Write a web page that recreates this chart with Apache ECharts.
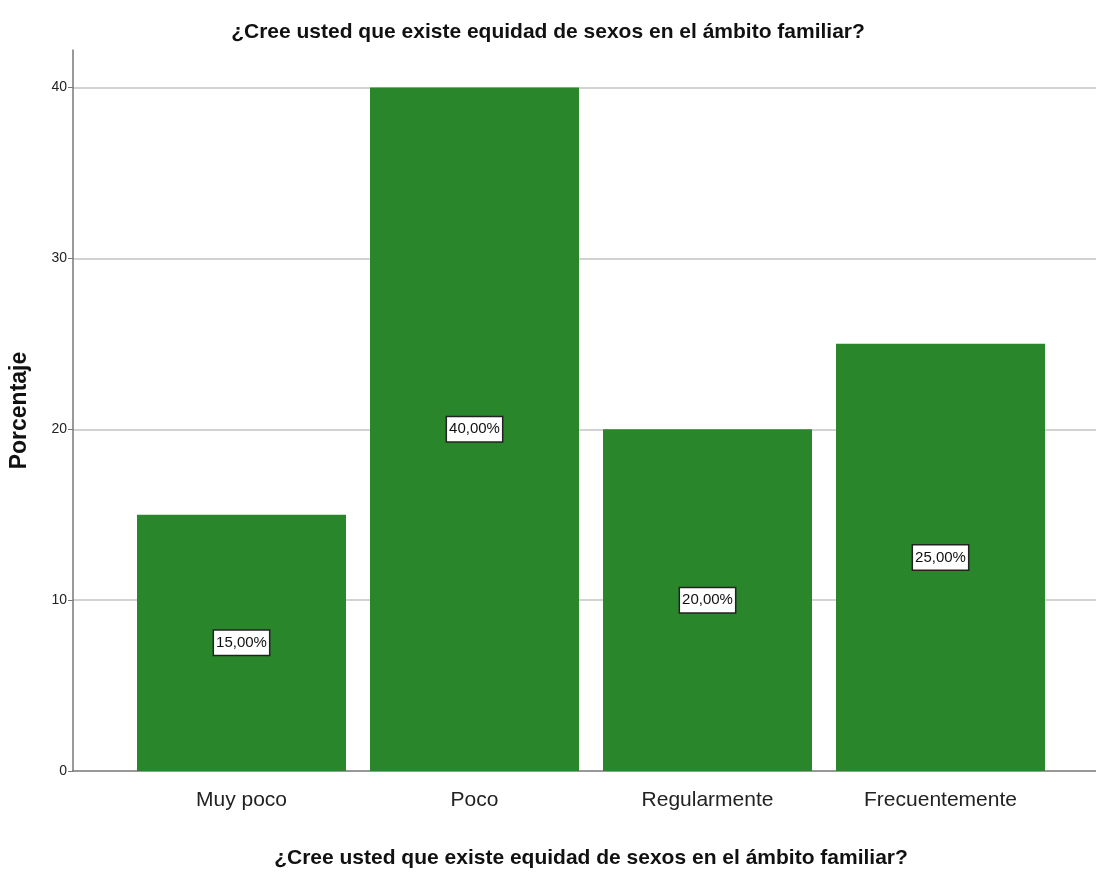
<!DOCTYPE html>
<html>
<head>
<meta charset="utf-8">
<script src="https://cdn.jsdelivr.net/npm/echarts@6/dist/echarts.min.js"></script>
<style>
  html, body { margin: 0; padding: 0; background: #fff; }
  #chart { width: 1096px; height: 873px; }
</style>
</head>
<body>
<div id="chart"></div>
<script>
// Datos del gráfico
const categorias = ['Muy poco', 'Poco', 'Regularmente', 'Frecuentemente'];
const porcentajes = [15, 40, 20, 25];
const yTicks = [0, 10, 20, 30, 40];
const titulo = '¿Cree usted que existe equidad de sexos en el ámbito familiar?';

const FONT = '"Liberation Sans", Arial, sans-serif';
const Y_MAX = 42.2;

document.addEventListener('DOMContentLoaded', () => {
  const chart = echarts.init(document.getElementById('chart'));

  const option = {
    backgroundColor: '#fff',
    animation: false,
    title: {
      text: titulo,
      left: 'center',
      top: 17,
      textStyle: { fontFamily: FONT, fontSize: 21, fontWeight: 'bold', color: '#111' }
    },
    grid: [
      // marco: eje Y, líneas de cuadrícula y línea base
      { left: 73, right: 0, top: 50, bottom: 102, outerBoundsMode: 'none' },
      // barras con margen lateral como en SPSS
      { left: 125, right: 39, top: 50, bottom: 102, outerBoundsMode: 'none' }
    ],
    xAxis: [
      {
        gridIndex: 0,
        type: 'value',
        min: 0, max: 1,
        axisLine: { show: true, lineStyle: { color: '#777', width: 1.5 } },
        axisTick: { show: false },
        axisLabel: { show: false },
        splitLine: { show: false }
      },
      {
        gridIndex: 1,
        type: 'category',
        data: categorias,
        axisLine: { show: false },
        axisTick: { show: false },
        axisLabel: { fontFamily: FONT, fontSize: 21, color: '#222', margin: 19 },
        name: titulo,
        nameLocation: 'middle',
        nameGap: 77,
        nameTextStyle: { fontFamily: FONT, fontSize: 21, fontWeight: 'bold', color: '#111' }
      }
    ],
    yAxis: [
      {
        gridIndex: 0,
        type: 'value',
        min: 0,
        max: Y_MAX,
        interval: 10,
        axisLine: { show: true, lineStyle: { color: '#777', width: 1.5 } },
        axisTick: { show: true, length: 5, lineStyle: { color: '#777' } },
        axisLabel: {
          fontFamily: FONT, fontSize: 14, color: '#222', margin: 6,
          showMaxLabel: false,
          formatter: (v) => (yTicks.indexOf(v) >= 0 ? String(v) : '')
        },
        splitLine: { show: true, showMinLine: false, showMaxLine: false, lineStyle: { color: '#d2d2d2', width: 2 } },
        name: 'Porcentaje',
        nameLocation: 'middle',
        nameGap: 42,
        nameTextStyle: { fontFamily: FONT, fontSize: 23, fontWeight: 'bold', color: '#111' }
      },
      {
        gridIndex: 1,
        type: 'value',
        min: 0,
        max: Y_MAX,
        show: false
      }
    ],
    series: [
      {
        type: 'bar',
        xAxisIndex: 1,
        yAxisIndex: 1,
        data: porcentajes,
        barWidth: 209,
        itemStyle: { color: '#2a862a' },
        label: {
          show: true,
          position: 'inside',
          formatter: (p) => p.value.toFixed(2).replace('.', ',') + '%',
          fontFamily: FONT,
          fontSize: 15,
          color: '#111',
          backgroundColor: '#fff',
          borderColor: '#222',
          borderWidth: 1.5,
          padding: [5, 2, 4, 2]
        }
      }
    ]
  };

  chart.setOption(option);
  window.addEventListener('resize', () => chart.resize());
});
</script>
</body>
</html>
